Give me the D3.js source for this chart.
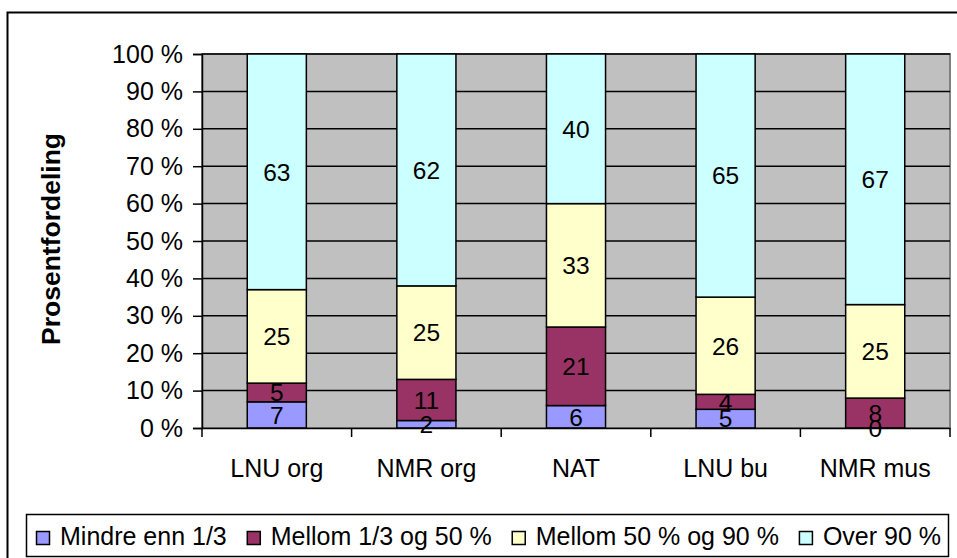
<!DOCTYPE html>
<html>
<head>
<meta charset="utf-8">
<script src="https://cdn.jsdelivr.net/npm/d3@7"></script>
<style>
  html, body { margin: 0; padding: 0; background: #fff; }
  svg { display: block; font-family: Arial, "Liberation Sans", sans-serif; }
</style>
</head>
<body>
<svg id="chart" width="957" height="558"></svg>
<script>
const categories = ["LNU org", "NMR org", "NAT", "LNU bu", "NMR mus"];
const seriesNames = ["Mindre enn 1/3", "Mellom 1/3 og 50 %", "Mellom 50 % og 90 %", "Over 90 %"];
const mindre = [7, 2, 6, 5, 0];
const mellom1 = [5, 11, 21, 4, 8];
const mellom2 = [25, 25, 33, 26, 25];
const over90 = [63, 62, 40, 65, 67];
const colors = ["#9999FF", "#993366", "#FFFFCC", "#CCFFFF"];
const yTicks = [0, 10, 20, 30, 40, 50, 60, 70, 80, 90, 100];
const yTitle = "Prosentfordeling";

const seriesValues = [mindre, mellom1, mellom2, over90];
const svg = d3.select("#chart");

const plot = { left: 202, right: 950, top: 54, bottom: 428 };

// outer frame
svg.append("rect").attr("x", 7.5).attr("y", 12.5).attr("width", 960).attr("height", 560)
  .attr("fill", "#fff").attr("stroke", "#000").attr("stroke-width", 2);

const x = d3.scaleBand().domain(categories).range([plot.left, plot.right]).paddingInner(0.605).paddingOuter(0.3025);
const y = d3.scaleLinear().domain([0, 100]).range([plot.bottom, plot.top]);

// plot background
svg.append("rect").attr("x", plot.left).attr("y", plot.top)
  .attr("width", plot.right - plot.left).attr("height", plot.bottom - plot.top)
  .attr("fill", "#C0C0C0").attr("stroke", "#808080").attr("stroke-width", 2);

// gridlines
svg.append("g").selectAll("line").data(yTicks.filter(d => d > 0)).join("line")
  .attr("x1", plot.left).attr("x2", plot.right)
  .attr("y1", d => y(d)).attr("y2", d => y(d))
  .attr("stroke", "#000").attr("stroke-width", 1.5);

// stacks
const table = categories.map((c, i) => {
  const o = { cat: c };
  seriesNames.forEach((s, j) => { o[s] = seriesValues[j][i]; });
  return o;
});
const stacked = d3.stack().keys(seriesNames)(table);

const gBars = svg.append("g");
stacked.forEach((layer, j) => {
  gBars.selectAll(null).data(layer).join("rect")
    .attr("x", d => x(d.data.cat))
    .attr("width", x.bandwidth())
    .attr("y", d => y(d[1]))
    .attr("height", d => y(d[0]) - y(d[1]))
    .attr("fill", colors[j])
    .attr("stroke", "#000")
    .attr("stroke-width", 1.5);
});
stacked.forEach((layer, j) => {
  gBars.selectAll(null).data(layer).join("text")
    .attr("x", d => x(d.data.cat) + x.bandwidth() / 2)
    .attr("y", d => (y(d[0]) + y(d[1])) / 2)
    .attr("dy", "0.36em")
    .attr("text-anchor", "middle")
    .attr("font-size", 24.5)
    .attr("fill", "#000")
    .text(d => d[1] - d[0]);
});

// y axis
const yAxis = d3.axisLeft(y).tickValues(yTicks).tickSize(9).tickPadding(10)
  .tickFormat(d => d + " %");
const gy = svg.append("g").attr("transform", `translate(${plot.left},0)`).call(yAxis);
gy.select(".domain").attr("stroke", "#000").attr("stroke-width", 1.5);
gy.selectAll(".tick line").attr("stroke", "#000").attr("stroke-width", 1.5);
gy.selectAll(".tick text").attr("font-size", 25).attr("fill", "#000")
  .attr("font-family", "Arial, 'Liberation Sans', sans-serif");

// x axis
const xAxis = d3.axisBottom(x).tickSize(0).tickPadding(0);
const gx = svg.append("g").attr("transform", `translate(0,${plot.bottom})`).call(xAxis);
gx.select(".domain").attr("stroke", "#000").attr("stroke-width", 1.5);
gx.selectAll(".tick text").attr("font-size", 25).attr("fill", "#000")
  .attr("font-family", "Arial, 'Liberation Sans', sans-serif")
  .attr("y", 49).attr("dy", 0);
// category boundary ticks
const boundaries = d3.range(categories.length + 1).map(i => plot.left + i * (plot.right - plot.left) / categories.length);
gx.selectAll(".bt").data(boundaries).join("line").attr("class", "bt")
  .attr("x1", d => d).attr("x2", d => d).attr("y1", 0).attr("y2", 9)
  .attr("stroke", "#000").attr("stroke-width", 1.5);

// y title
svg.append("text")
  .attr("transform", `translate(60,${(plot.top + plot.bottom) / 2 - 2}) rotate(-90)`)
  .attr("text-anchor", "middle")
  .attr("font-size", 26.5).attr("font-weight", "bold")
  .text(yTitle);

// legend
const legend = svg.append("g");
legend.append("rect").attr("x", 26.5).attr("y", 514.5).attr("width", 922).attr("height", 42)
  .attr("fill", "#fff").attr("stroke", "#000").attr("stroke-width", 1.5);
let lx = 36;
seriesNames.forEach((s, j) => {
  legend.append("rect").attr("x", lx + 0.5).attr("y", 531.5).attr("width", 13).attr("height", 13)
    .attr("fill", colors[j]).attr("stroke", "#000").attr("stroke-width", 1.5);
  const t = legend.append("text").attr("x", lx + 24).attr("y", 545)
    .attr("font-size", 25).attr("fill", "#000").text(s);
  lx += 24 + t.node().getComputedTextLength() + 20;
});
</script>
</body>
</html>
